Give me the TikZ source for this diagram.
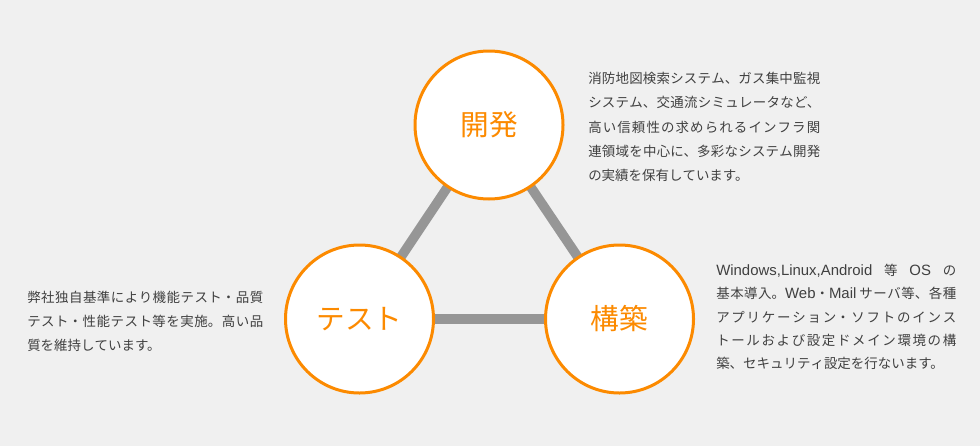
\documentclass[tikz,border=0pt]{standalone}
\usepackage{fontspec}
\setmainfont{Noto Sans CJK JP}
\newfontfamily\latfont{Liberation Sans}
\newcommand{\lat}{\latfont\fontsize{11.2}{17.4}\selectfont}
\definecolor{bg}{RGB}{240,240,240}
\definecolor{orng}{RGB}{252,138,0}
\definecolor{bar}{RGB}{150,150,150}
\definecolor{txt}{RGB}{64,64,64}
\newcommand{\descbox}[3]{\begin{minipage}[t]{#1}\fontsize{10.1}{#2}\selectfont\color{txt}%
  \XeTeXlinebreaklocale "ja"\XeTeXlinebreakskip=0pt plus 1fil\relax
  \parindent=0pt\parfillskip=0pt\tolerance=10000\relax #3\end{minipage}}
\newcommand{\lastln}[1]{{\parfillskip=0pt plus 1fill\relax #1\par}}
\tikzset{
  stage/.style={circle, draw=orng, line width=2.25pt, fill=white, minimum size=111pt, inner sep=0pt,
    text=orng, font=\fontsize{21.5}{21.5}\selectfont},
  link/.style={draw=bar, line width=7.2pt},
  desc/.style={anchor=north west, inner sep=0pt}
}
\begin{document}
\begin{tikzpicture}[x=0.75pt,y=-0.75pt]
\fill[bg] (0,0) rectangle (980,446);
\useasboundingbox (0,0) rectangle (980,446);
\coordinate (ck) at (489,125);
\coordinate (ct) at (359.5,319);
\coordinate (cb) at (619.5,319);
\draw[link] (ck) -- (ct);
\draw[link] (ck) -- (cb);
\draw[link] (ct) -- (cb);
\node[stage] (kai) at (ck) {開発};
\node[stage] (tes) at (ct) {テスト};
\node[stage] (kou) at (cb) {構築};
\node[desc] (d1) at (588,72) {\descbox{174pt}{18.2pt}{%
消防地図検索システム、ガス集中監視\par
システム、交通流シミュレータなど、\par
高い信頼性の求められるインフラ関\par
連領域を中心に、多彩なシステム開発\par
\lastln{の実績を保有しています。}}};
\node[desc] (d2) at (716,264) {\descbox{180pt}{17.4pt}{%
{\lat Windows,Linux,Android} 等 {\lat OS} の\par
基本導入。{\lat Web}・{\lat Mail} サーバ等、各種\par
アプリケーション・ソフトのインス\par
トールおよび設定ドメイン環境の構\par
\lastln{築、セキュリティ設定を行ないます。}}};
\node[desc] (d3) at (27,291) {\descbox{177pt}{18pt}{%
弊社独自基準により機能テスト・品質\par
テスト・性能テスト等を実施。高い品\par
\lastln{質を維持しています。}}};
\end{tikzpicture}
\end{document}
